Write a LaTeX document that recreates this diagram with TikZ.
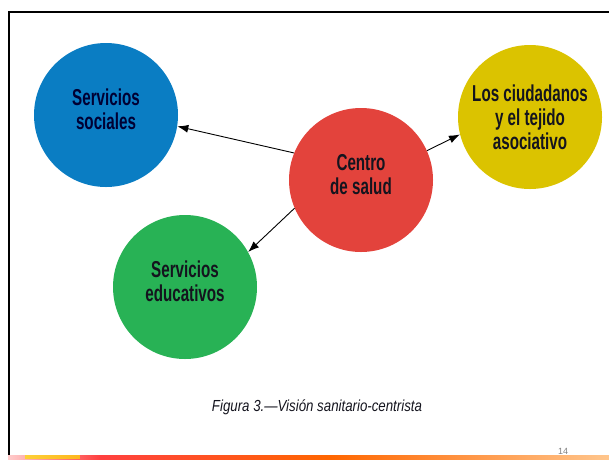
\documentclass[tikz,border=0pt]{standalone}
\usepackage{fontspec}
\setmainfont{Liberation Sans}
\newfontfamily\narrowfont[FakeStretch=0.66]{Liberation Sans}
\newfontfamily\captionfont[FakeStretch=0.83]{Liberation Sans}
\usetikzlibrary{arrows.meta,positioning,calc}

\definecolor{socblue}{RGB}{10,125,195}
\definecolor{saludred}{RGB}{227,67,60}
\definecolor{ciudyellow}{RGB}{219,195,0}
\definecolor{edugreen}{RGB}{40,178,85}
\definecolor{inkdark}{RGB}{20,20,30}

\tikzset{
	bubble/.style={circle, minimum size=144pt, inner sep=0pt, align=center,
		font=\narrowfont\bfseries\fontsize{23}{24}\selectfont, text=inkdark},
	raised/.style={text depth=12pt},
	link/.style={line width=0.9pt, -{Latex[length=11pt,width=8pt]}}
}

\begin{document}
\begin{tikzpicture}[x=1pt,y=-1pt]
	\useasboundingbox (0,0) rectangle (609,459);
	% frame of the slide
	\draw[line width=2pt] (9,458) -- (9,12) -- (610,12);
	\shade[left color=pink!80, right color=red!75] (8,455) rectangle (100,459);
	\fill[yellow!80!orange, opacity=0.7] (25,455) rectangle (80,459);
	\shade[left color=red!75, right color=orange!80!red] (100,455) rectangle (330,459);
	\shade[left color=orange!80!red, right color=orange!45] (330,455) rectangle (609,459);
	\node[text=gray, font=\fontsize{9}{10}\selectfont] (pagenum) at (563,451) {14};
	% circles
	\node[bubble, fill=socblue, text=blue!20!black, raised] (sociales) at (106,115) {Servicios\\sociales};
	\node[bubble, fill=saludred, raised] (salud) at (361,180) {Centro\\de salud};
	\node[bubble, fill=ciudyellow] (ciudadanos) at (530,117) {Los ciudadanos\\y el tejido\\asociativo};
	\node[bubble, fill=edugreen, raised] (educativos) at (185,287) {Servicios\\educativos};
	% arrows from the centre
	\draw[link] (salud.158) -- (sociales.-9);
	\draw[link] (salud.24) -- (ciudadanos.194);
	\draw[link] (salud.203) -- (educativos.29);
	% caption
	\node[font=\captionfont\itshape\fontsize{16}{18}\selectfont, text=inkdark] (caption) at (317,407) {Figura 3.—Visión sanitario-centrista};
\end{tikzpicture}
\end{document}
